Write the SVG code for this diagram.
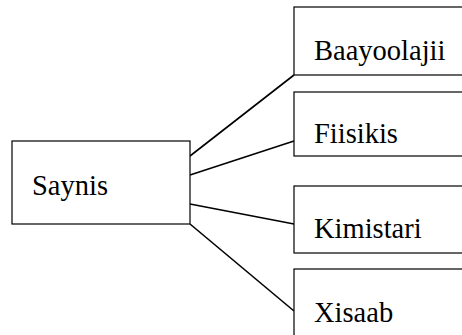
<svg xmlns="http://www.w3.org/2000/svg" width="462" height="335" viewBox="0 0 462 335">
<style>
.box{fill:#fff;stroke:#000;stroke-width:1.2}
.lbl{font-family:"Liberation Serif","Times New Roman",serif;font-size:28.5px;fill:#000}
.conn line{stroke:#000;stroke-width:1.6}
</style>
<rect width="462" height="335" fill="#fff"/>
<g class="conn">
<line x1="190" y1="156" x2="294" y2="75"/>
<line x1="190" y1="175" x2="294" y2="141"/>
<line x1="190" y1="204" x2="294" y2="224"/>
<line x1="190" y1="224" x2="294" y2="311"/>
</g>
<g id="saynis"><rect class="box" x="12" y="141" width="178" height="83"/><text class="lbl" x="32" y="195">Saynis</text></g>
<g id="baayoolajii"><rect class="box" x="294" y="7" width="180" height="68"/><text class="lbl" x="314" y="60">Baayoolajii</text></g>
<g id="fiisikis"><rect class="box" x="294" y="92" width="180" height="64"/><text class="lbl" x="314" y="143">Fiisikis</text></g>
<g id="kimistari"><rect class="box" x="294" y="186" width="180" height="67"/><text class="lbl" x="314" y="238">Kimistari</text></g>
<g id="xisaab"><rect class="box" x="294" y="269" width="180" height="80"/><text class="lbl" x="314" y="322">Xisaab</text></g>
</svg>
